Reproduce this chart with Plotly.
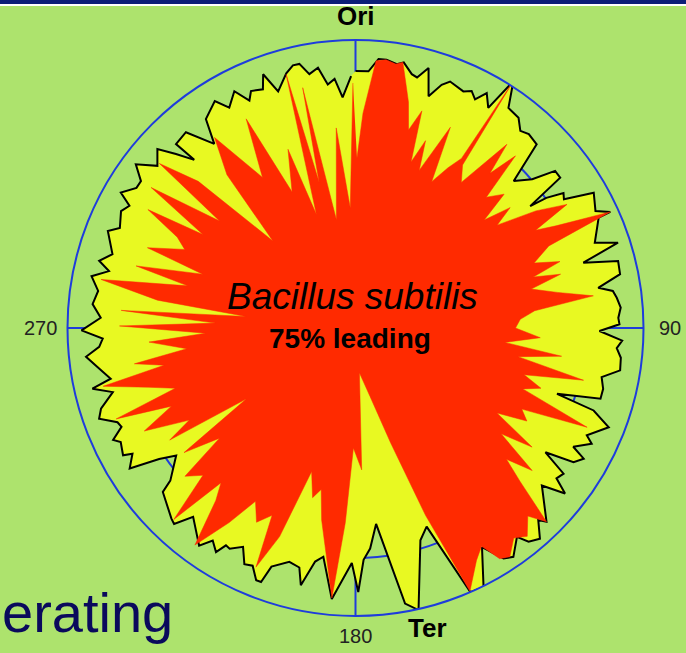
import plotly.graph_objects as go

# ---- data (angle in degrees clockwise from Ori, radius in plot units; outer ring = 288) ----
yellow_theta = [0, 2.9, 4.9, 6.6, 8.9, 10.3, 12.5, 13.8, 15.7, 17.5, 19.5, 21.0, 24.5, 26.1, 27.6, 29.2, 31.1, 32.6,
                34.8, 37.8, 39.9, 41.8, 44.6, 47.1, 49.9, 51.8, 53.7, 55.1, 55.7, 57.0, 58.3, 60.4, 64.0, 65.5, 65.6,
                70.4, 72.0, 74.0, 75.7, 78.5, 80.6, 81.8, 83.4, 85.6, 87.8, 89.2, 90.7, 92.7, 94.4, 96.4, 99.1, 101.3,
                103.8, 106.1, 108.1, 109.1, 111.4, 114.9, 116.1, 118.6, 119.8, 121.6, 123.2, 125.0, 126.8, 128.3,
                130.2, 135.4, 136.4, 138.8, 141.0, 142.3, 145.4, 147.3, 150.0, 153.7, 156.5, 160.3, 163.0, 167.4,
                169.8, 174.0, 176.2, 178.0, 179.4, 180.9, 185.0, 188.0, 189.8, 192.0, 193.2, 195.8, 199.4, 200.4,
                201.5, 203.4, 205.2, 207.2, 209.7, 210.8, 211.9, 213.9, 215.7, 220.7, 222.8, 224.0, 229.6, 230.5,
                234.6, 236.3, 238.1, 240.6, 241.3, 244.1, 245.2, 247.1, 248.4, 250.5, 252.4, 255.2, 257.0, 258.3,
                261.4, 263.9, 265.8, 267.6, 269.5, 272.3, 275.2, 278.2, 281.1, 283.0, 284.7, 286.9, 291.4, 293.0,
                296.5, 298.4, 300.0, 302.6, 304.4, 306.7, 309.3, 312.1, 314.1, 316.2, 315.7, 319.1, 322.5, 324.4,
                328.2, 330.2, 332.9, 335.0, 336.2, 338.8, 340.0, 341.9, 344.8, 346.6, 348.0, 349.7, 351.8, 353.5,
                355.2, 356.8, 359.0]
yellow_r = [257, 257, 270, 270, 267, 270, 260, 258, 270, 243, 258, 264, 260, 264, 258, 269, 257, 293,
            268, 266, 257, 260, 258, 216, 231, 254, 254, 213, 231, 248, 245, 274, 267, 280, 267,
            254, 276, 237, 271, 270, 246, 260, 263, 266, 263, 264, 244, 267, 262, 267, 268, 251,
            255, 255, 212, 252, 272, 255, 263, 248, 263, 256, 227, 254, 251, 267,
            244, 272, 265, 280, 275, 264, 278, 274, 253, 289, 288, 211, 222, 289,
            280, 197, 221, 232, 264, 235, 272, 231, 237, 263, 246, 243, 253, 271,
            271, 259, 261, 246, 254, 253, 264, 256, 268, 249, 267, 265, 253, 240,
            220, 236, 266, 256, 265, 261, 267, 254, 256, 272, 267, 251, 270, 250,
            261, 271, 257, 253, 274, 255, 264, 260, 269, 253, 265, 254, 266, 256,
            262, 257, 271, 260, 260, 274, 256, 267, 250, 233, 257, 259, 232, 257,
            267, 254, 266, 251, 259, 256, 270, 249, 264, 270, 270, 258, 263, 245,
            250, 231, 252]

red_theta = [0.5, 2.0, 4.4, 6.5, 8.7, 10.1, 11.7, 13.2, 15.0, 17.0, 18.5, 20.5, 22.0, 25.3, 27.5, 30.0, 32.0, 32.6,
             33.3, 36.0, 39.5, 41.0, 42.9, 45.0, 48.0, 50.0, 52.1, 54.0, 57.0, 59.7, 61.5, 63.0, 65.5, 67.0, 70.0,
             72.0, 74.0, 75.3, 77.5, 80.0, 82.3, 84.5, 87.0, 90.0, 93.0, 95.5, 97.8, 100.0, 102.9, 105.5, 108.0,
             110.0, 113.2, 116.0, 118.5, 121.0, 124.0, 126.0, 128.9, 131.0, 133.0, 135.4, 137.5, 140.5, 143.0,
             146.0, 148.0, 150.0, 152.5, 156.5, 159.5, 163.0, 168.0, 175.0, 177.5, 181.0, 183.0, 185.0, 190.0,
             192.0, 194.2, 197.0, 200.0, 202.6, 204.0, 207.0, 210.0, 213.0, 216.5, 219.0, 221.0, 223.5, 226.0,
             229.0, 231.0, 234.0, 237.0, 238.9, 241.0, 244.0, 247.0, 249.2, 251.5, 254.0, 257.0, 259.0, 260.8,
             263.0, 266.1, 268.0, 270.5, 272.0, 274.3, 276.0, 278.0, 280.8, 284.1, 285.8, 289.4, 291.1, 294.7,
             297.0, 299.7, 301.5, 304.5, 308.2, 310.0, 313.0, 316.5, 320.0, 323.5, 328.3, 332.4, 335.0, 339.3,
             341.0, 344.7, 346.0, 347.6, 350.0, 354.5, 357.5, 359.4]
red_r = [170, 215, 268, 270, 267, 270, 249, 232, 205, 227, 175, 200, 170, 222, 165, 185, 200, 292,
         195, 180, 238, 205, 235, 185, 200, 168, 196, 175, 215, 245, 205, 225, 280, 210, 190,
         215, 185, 212, 180, 205, 240, 180, 165, 160, 185, 150, 208, 165, 234, 175, 195,
         178, 252, 185, 195, 165, 213, 180, 227, 200, 225, 272, 255, 270, 263,
         276, 272, 252, 262, 287, 200, 120, 70, 45, 142, 120, 195, 271, 195,
         165, 175, 150, 222, 259, 205, 218, 200, 232, 270, 222, 205, 264, 212,
         226, 175, 212, 130, 217, 190, 235, 200, 256, 190, 215, 259, 195, 224,
         170, 207, 150, 236, 140, 235, 110, 200, 259, 173, 228, 162, 223, 188,
         200, 239, 179, 248, 173, 256, 215, 120, 200, 237, 177, 236, 150, 191,
         120, 263, 150, 246, 110, 201, 120, 245]

angle_ticks = [0, 90, 180, 270]
angle_labels = ["", "90", "180", "270"]
grid_circle = [230]
r_max = 288

W, H = 686, 653
cx, cy, R = 355.5, 328.0, 288.0  # pixel layout of the polar area

GREEN = "#ADE36D"
YELLOW = "#E8F922"
RED = "#FF2A00"
BLUE = "#1E3CDC"
FONT = "Liberation Sans, Arial, sans-serif"

fig = go.Figure()
fig.add_trace(go.Scatterpolar(
    theta=yellow_theta, r=yellow_r, mode="lines", fill="toself",
    fillcolor=YELLOW, line=dict(color="black", width=2), hoverinfo="skip"))
fig.add_trace(go.Scatterpolar(
    theta=red_theta, r=red_r, mode="lines", fill="toself",
    fillcolor=RED, line=dict(color=RED, width=0.5), hoverinfo="skip"))

# angular tick labels placed just outside the ring (pixel offsets from centre)
label_pos = {"90": (cx + R + 26, cy), "180": (cx, cy + R + 20), "270": (cx - R - 27, cy)}
annotations = []
for t, lab in zip(angle_ticks, angle_labels):
    if not lab:
        continue
    px, py = label_pos[lab]
    annotations.append(dict(text=lab, x=px / W, y=1 - py / H, xref="paper", yref="paper",
                            showarrow=False, xanchor="center", yanchor="middle",
                            font=dict(family=FONT, size=20, color="#222222")))

annotations += [
    dict(text="<b>Ori</b>", x=356 / W, y=1 - 16 / H, xref="paper", yref="paper",
         showarrow=False, xanchor="center", yanchor="middle",
         font=dict(family=FONT, size=26, color="black")),
    dict(text="<b>Ter</b>", x=427 / W, y=1 - 628 / H, xref="paper", yref="paper",
         showarrow=False, xanchor="center", yanchor="middle",
         font=dict(family=FONT, size=26, color="black")),
    dict(text="<i>Bacillus subtilis</i>", x=352 / W, y=1 - 296 / H, xref="paper", yref="paper",
         showarrow=False, xanchor="center", yanchor="middle",
         font=dict(family=FONT, size=37, color="black")),
    dict(text="<b>75% leading</b>", x=350 / W, y=1 - 338 / H, xref="paper", yref="paper",
         showarrow=False, xanchor="center", yanchor="middle",
         font=dict(family=FONT, size=28, color="black")),
    dict(text="erating", x=0, y=1 - 612 / H, xref="paper", yref="paper",
         showarrow=False, xanchor="left", yanchor="middle",
         font=dict(family=FONT, size=56, color="#0A0A5C")),
]

fig.update_layout(
    width=W, height=H,
    margin=dict(l=0, r=0, t=0, b=0),
    paper_bgcolor=GREEN, plot_bgcolor=GREEN,
    showlegend=False,
    polar=dict(
        bgcolor=GREEN,
        domain=dict(x=[(cx - R) / W, (cx + R) / W],
                    y=[(H - cy - R) / H, (H - cy + R) / H]),
        radialaxis=dict(range=[0, r_max], showticklabels=False, ticks="",
                        showline=False, tickvals=grid_circle,
                        gridcolor=BLUE, gridwidth=1.5),
        angularaxis=dict(direction="clockwise", rotation=90,
                         tickmode="array", tickvals=angle_ticks, ticktext=angle_labels,
                         showticklabels=False,
                         ticks="", showline=True, linecolor=BLUE, linewidth=2,
                         gridcolor=BLUE, gridwidth=1.5),
    ),
    shapes=[
        dict(type="rect", xref="paper", yref="paper", x0=0, x1=1, y0=1 - 4 / H, y1=1,
             fillcolor="#0C1F78", line=dict(width=0), layer="above"),
        dict(type="rect", xref="paper", yref="paper", x0=0, x1=1, y0=1 - 6 / H, y1=1 - 4 / H,
             fillcolor="white", line=dict(width=0), layer="above"),
    ],
    annotations=annotations,
)

fig.write_html("out.html", config={"displayModeBar": False},
               post_script="document.body.style.margin='0px';document.body.style.overflow='hidden';")
